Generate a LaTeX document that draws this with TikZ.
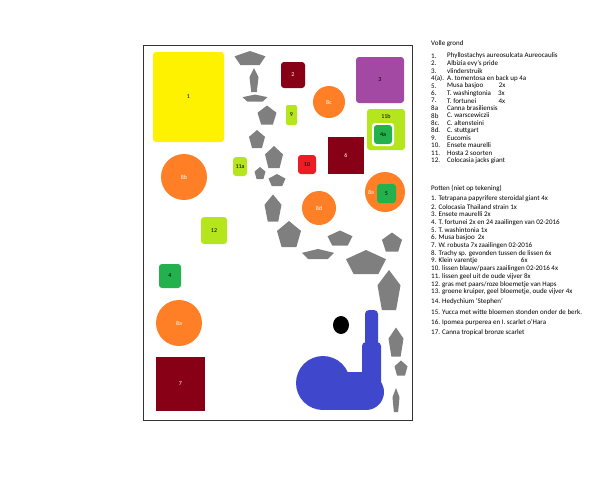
\documentclass[tikz,border=0pt]{standalone}
\usepackage{fontspec}
\setmainfont{Carlito}
\begin{document}
\begin{tikzpicture}[x=1pt,y=-1pt,
  bx/.style={rounded corners=3pt,inner sep=0,font=\fontsize{6}{7}\selectfont},
  circ/.style={circle,fill=corange,inner sep=0,text=white,font=\fontsize{6}{7}\selectfont},
  leg/.style={anchor=west,inner sep=0,font=\fontsize{7}{7}\selectfont}]
\definecolor{cyellow}{HTML}{FFF200}
\definecolor{cdred}{HTML}{880015}
\definecolor{cpurple}{HTML}{A349A4}
\definecolor{corange}{HTML}{FF7F27}
\definecolor{clime}{HTML}{B5E61D}
\definecolor{cgreen}{HTML}{22B14C}
\definecolor{cred}{HTML}{ED1C24}
\definecolor{cblue}{HTML}{3F48CC}
\definecolor{cgray}{HTML}{7F7F7F}
\useasboundingbox (0,0) rectangle (600,480);
\newcommand\pent[4]{\fill[cgray,shift={(#1,#2)},xscale=#3/2,yscale=#4/2] (0,-1)--(1,-0.236)--(0.618,1)--(-0.618,1)--(-1,-0.236)--cycle;}
\draw[line width=1pt,black!80] (143,45) rectangle (412,420);
% boxes
\node[bx,fill=cyellow,minimum width=71,minimum height=90] (n1) at (188.5,97) {1};
\node[bx,fill=cdred,text=white,minimum width=24,minimum height=26] (n2) at (293,75) {2};
\node[bx,fill=cpurple,minimum width=48,minimum height=46] (n3) at (380,80) {3};
\node[circ,minimum size=32] (n8c) at (329,102) {8c};
\node[bx,fill=clime,minimum width=11,minimum height=20,rounded corners=2pt] (n9) at (291.5,115) {9};
\node[bx,fill=clime,minimum width=38,minimum height=41] (n11b) at (386,129.5) {};
\node[font=\fontsize{6}{7}\selectfont] at (386,116) {11b};
\node[bx,fill=white,minimum width=22,minimum height=23] (w4a) at (383,134.5) {};
\node[bx,fill=cgreen,minimum width=18,minimum height=19] (n4a) at (383,134.5) {4a};
\node[fill=cdred,text=white,inner sep=0,minimum width=36,minimum height=37,font=\fontsize{6}{7}\selectfont] (n6) at (346,155.5) {6};
\node[bx,fill=cred,minimum width=18,minimum height=19] (n10) at (307,164.5) {10};
\node[bx,fill=clime,minimum width=14,minimum height=19] (n11a) at (240,166.5) {11a};
\node[circ,minimum size=46] (n8b) at (184,177) {8b};
\node[circ,minimum size=40] (n8ar) at (385,192) {};
\node[text=white,font=\fontsize{6}{7}\selectfont] at (371,192) {8a};
\node[bx,fill=cgreen,minimum width=19,minimum height=19] (n5) at (386.5,193.5) {5};
\node[circ,minimum size=34] (n8d) at (319,208) {8d};
\node[bx,fill=clime,minimum width=26,minimum height=27] (n12) at (214,230.5) {12};
\node[bx,fill=cgreen,minimum width=22,minimum height=24] (n4) at (170,276) {4};
\node[circ,minimum size=46] (n8a) at (179,323) {8a};
\node[fill=cdred,text=white,inner sep=0,minimum width=49,minimum height=54,font=\fontsize{6}{7}\selectfont] (n7) at (180.5,384) {7};
% pond
\fill[black] (341,325) ellipse (8 and 9);
\fill[cblue] (323,383) circle (27);
\fill[cblue] (366,392) circle (18);
\fill[cblue] (323,372) rectangle (366,410);
\fill[cblue,rounded corners=4pt] (362,342) rectangle (381,400);
\fill[cblue,rounded corners=4pt] (365,310) rectangle (378,350);
% stepping stones
\pent{250}{58}{31}{14}
\pent{254}{80}{9}{24}
\pent{255}{98}{25}{7}
\pent{267}{115}{19}{19}
\pent{257}{139}{16}{18}
\pent{274}{157}{18}{22}
\pent{260}{173}{11}{12}
\pent{277}{180}{17}{12}
\pent{273}{208}{17}{27}
\pent{289}{234}{24}{26}
\pent{340}{238}{25}{15}
\pent{392}{242}{20}{19}
\pent{318}{254}{32}{10}
\pent{366}{262}{40}{24}
\pent{389}{290}{23}{40}
\pent{396}{342}{15}{29}
\pent{401}{368}{13}{15}
\pent{396}{400}{7}{24}
% legend
\node[leg] at (431,44) {Volle grond};
\foreach \n/\t [count=\i from 0] in {1./Phyllostachys aureosulcata Aureocaulis,2./Albizia evy's pride,3./vlinderstruik,4(a)./A. tomentosa en back up 4a,5./Musa basjoo\hspace{2.2em}2x,6./T. washingtonia\hspace{1em}3x,7./T. fortunei\hspace{3.2em}4x,8a/Canna brasiliensis,8b/C. warscewiczii,8c./C. altensteini,8d./C. stuttgart,9./Eucomis,10./Ensete maurelli,11./Hosta 2 soorten,12./Colocasia jacks giant}
  {\node[leg] at (431,56+7.45*\i) {\n}; \node[leg] at (447,56+7.45*\i) {\t};}
\node[leg] at (431,189) {Potten (niet op tekening)};
\foreach \t [count=\i from 0] in {1. Tetrapana papyrifere steroidal giant 4x,2. Colocasia Thailand strain 1x,3. Ensete maurelli 2x,4. T. fortunei 2x en 24 zaailingen van 02-2016,5. T. washintonia 1x,6. Musa basjoo\ \ 2x,7. W. robusta 7x zaailingen 02-2016,8. Trachy sp. gevonden tussen de lissen 6x,9. Klein varentje\hspace{6.2em}6x,10. lissen blauw/paars zaailingen 02-2016 4x,11. lissen geel uit de oude vijver 8x,12. gras met paars/roze bloemetje van Haps,13. groene kruiper{,} geel bloemetje{,} oude vijver 4x}
  {\node[leg] at (431,199+7.75*\i) {\t};}
\node[leg] at (431,302) {14. Hedychium 'Stephen'};
\node[leg] at (431,312) {15. Yucca met witte bloemen stonden onder de berk.};
\node[leg] at (431,323) {16. Ipomea purperea en I. scarlet o'Hara};
\node[leg] at (431,333) {17. Canna tropical bronze scarlet};
\end{tikzpicture}
\end{document}
